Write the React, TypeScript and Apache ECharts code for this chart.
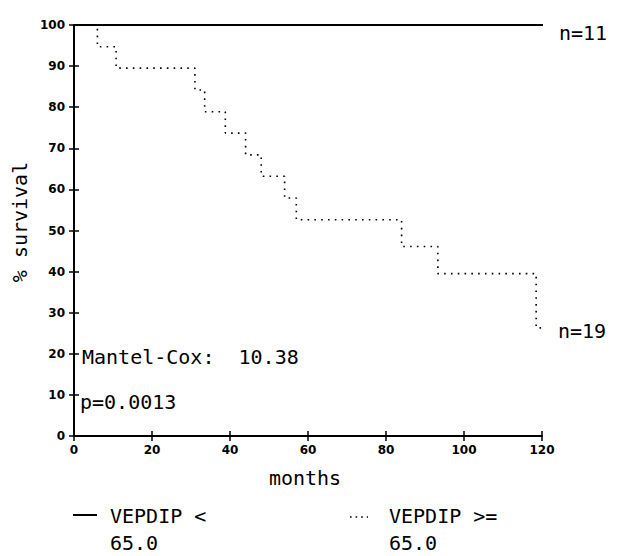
import React, { useEffect, useRef } from "react";
import * as echarts from "echarts";

// ---- data ----
const xTicks = [0, 20, 40, 60, 80, 100, 120];
const yTicks = [0, 10, 20, 30, 40, 50, 60, 70, 80, 90, 100];

// group VEPDIP < 65.0 (solid): no events
const lowMonths = [0, 122];
const lowSurvival = [100, 100];

// group VEPDIP >= 65.0 (dotted): Kaplan-Meier steps
const highMonths = [0, 6, 10.8, 31, 33.5, 38.8, 44, 48, 54, 57, 84, 93.3, 118.5];
const highSurvival = [100, 94.7, 89.5, 84.2, 78.9, 73.7, 68.4, 63.2, 57.9, 52.6, 46.1, 39.5, 26.3];
const highEnd = 120;

const legendNames = ["VEPDIP <\n65.0", "VEPDIP >=\n65.0"];
const endLabels = ["n=11", "n=19"];
const statLines = ["Mantel-Cox:  10.38", "p=0.0013"];
const xName = "months";
const yName = "% survival";

function stepPoints(ts: number[], ss: number[], end: number) {
  const pts: number[][] = [];
  for (let i = 0; i < ts.length; i++) {
    if (i > 0) pts.push([ts[i], ss[i - 1]]);
    pts.push([ts[i], ss[i]]);
  }
  pts.push([end, ss[ss.length - 1]]);
  return pts;
}

const MONO = "'DejaVu Sans Mono', 'Liberation Mono', monospace";
const TICKF = "'DejaVu Sans', sans-serif";

export default function App() {
  const ref = useRef<HTMLDivElement>(null);
  useEffect(() => {
    if (!ref.current) return;
    const chart = echarts.init(ref.current, null, { renderer: "svg" });
    const option: any = {
      animation: false,
      backgroundColor: "#ffffff",
      grid: { left: 74, right: 88, top: 25, bottom: 120, containLabel: false },
      xAxis: [
        {
          type: "value",
          min: 0,
          max: 120,
          interval: 20,
          axisLine: { show: true, onZero: false, lineStyle: { color: "#000", width: 2 } },
          axisTick: { show: true, inside: false, length: 5, lineStyle: { color: "#000", width: 1.5 } },
          axisLabel: {
            margin: 8,
            color: "#000",
            fontFamily: TICKF,
            fontWeight: "bold",
            fontSize: 12,
            formatter: (v: number) => (xTicks.includes(v) ? String(v) : ""),
          },
          splitLine: { show: false },
        },
        {
          type: "value",
          position: "bottom",
          min: 0,
          max: 120,
          interval: 20,
          axisLine: { show: false },
          axisTick: { show: true, inside: true, length: 5, lineStyle: { color: "#000", width: 1.5 } },
          axisLabel: { show: false },
          splitLine: { show: false },
        },
      ],
      yAxis: [
        {
          type: "value",
          min: 0,
          max: 100,
          interval: 10,
          axisLine: { show: true, onZero: false, lineStyle: { color: "#000", width: 2 } },
          axisTick: { show: true, inside: false, length: 5, lineStyle: { color: "#000", width: 1.5 } },
          axisLabel: {
            margin: 9,
            color: "#000",
            fontFamily: TICKF,
            fontWeight: "bold",
            fontSize: 12,
            formatter: (v: number) => (yTicks.includes(v) ? String(v) : ""),
          },
          splitLine: { show: false },
        },
        {
          type: "value",
          position: "left",
          min: 0,
          max: 100,
          interval: 10,
          axisLine: { show: false },
          axisTick: { show: true, inside: true, length: 5, lineStyle: { color: "#000", width: 1.5 } },
          axisLabel: { show: false },
          splitLine: { show: false },
        },
      ],
      series: [
        {
          type: "line",
          name: legendNames[0],
          data: lowMonths.map((m, i) => [m, lowSurvival[i]]),
          showSymbol: false,
          clip: false,
          lineStyle: { color: "#000", width: 2, type: "solid" },
        },
        {
          type: "line",
          name: legendNames[1],
          data: stepPoints(highMonths, highSurvival, highEnd),
          showSymbol: false,
          clip: false,
          lineStyle: { color: "#000", width: 1.6, type: [1.6, 5.2] },
        },
      ],
      graphic: [
        {
          type: "text",
          x: 20,
          y: 222,
          rotation: Math.PI / 2,
          style: { text: yName, font: `20px ${MONO}`, fill: "#000", align: "center", verticalAlign: "middle" },
        },
        {
          type: "text",
          x: 305,
          y: 478,
          style: { text: xName, font: `20px ${MONO}`, fill: "#000", align: "center", verticalAlign: "middle" },
        },
        {
          type: "text",
          x: 559,
          y: 33,
          style: { text: endLabels[0], font: `20px ${MONO}`, fill: "#000", align: "left", verticalAlign: "middle" },
        },
        {
          type: "text",
          x: 558,
          y: 331,
          style: { text: endLabels[1], font: `20px ${MONO}`, fill: "#000", align: "left", verticalAlign: "middle" },
        },
        {
          type: "text",
          x: 82,
          y: 357,
          style: { text: statLines[0], font: `20px ${MONO}`, fill: "#000", align: "left", verticalAlign: "middle" },
        },
        {
          type: "text",
          x: 80,
          y: 402,
          style: { text: statLines[1], font: `20px ${MONO}`, fill: "#000", align: "left", verticalAlign: "middle" },
        },
        // legend
        {
          type: "line",
          shape: { x1: 73, y1: 515, x2: 97, y2: 515 },
          style: { stroke: "#000", lineWidth: 2 },
        },
        {
          type: "text",
          x: 110,
          y: 502,
          style: { text: legendNames[0], font: `20px ${MONO}`, fill: "#000", align: "left", verticalAlign: "top", lineHeight: 27 },
        },
        {
          type: "line",
          shape: { x1: 350, y1: 517, x2: 368, y2: 517 },
          style: { stroke: "#000", lineWidth: 1.6, lineDash: [1.6, 4] },
        },
        {
          type: "text",
          x: 389,
          y: 502,
          style: { text: legendNames[1], font: `20px ${MONO}`, fill: "#000", align: "left", verticalAlign: "top", lineHeight: 27 },
        },
      ],
    };
    chart.setOption(option);
    return () => chart.dispose();
  }, []);
  return (
    <div
      ref={ref}
      style={{ position: "fixed", left: 0, top: 0, width: 630, height: 556, background: "#fff" }}
    />
  );
}
